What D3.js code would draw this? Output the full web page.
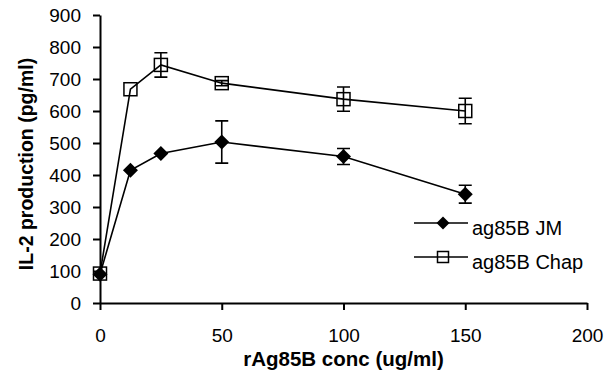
<!DOCTYPE html>
<html>
<head>
<meta charset="utf-8">
<script src="https://cdn.jsdelivr.net/npm/d3@7"></script>
<style>
  body { margin: 0; background: #fff; }
  text { font-family: "Liberation Sans", Arial, sans-serif; fill: #000; }
</style>
</head>
<body>
<div id="chart"></div>
<script>
// concentrations (ug/ml)
const conc = [0, 12.5, 25, 50, 100, 150];

// IL-2 production (pg/ml) and error (SD)
const jmValues = [90, 415, 467, 503, 458, 340];
const jmErrors = [0, 0, 0, 66, 25, 28];
const chapValues = [92, 668, 744, 687, 637, 600];
const chapErrors = [0, 0, 38, 8, 38, 40];

const xTicks = [0, 50, 100, 150, 200];
const yTicks = [0, 100, 200, 300, 400, 500, 600, 700, 800, 900];
const seriesNames = ["ag85B JM", "ag85B Chap"];

function renderChart() {
    const width = 607, height = 381;
    const margin = { left: 100, right: 20, top: 15, bottom: 78 };

    const svg = d3.select("#chart")
        .append("svg")
        .attr("width", width)
        .attr("height", height);

    const x = d3.scaleLinear().domain([0, 200]).range([margin.left, width - margin.right]);
    const y = d3.scaleLinear().domain([0, 900]).range([height - margin.bottom, margin.top]);

    // axes
    const xAxis = svg.append("g")
        .attr("transform", `translate(0,${y(0)})`)
        .call(d3.axisBottom(x).tickValues(xTicks).tickSize(7).tickPadding(18.5).tickSizeOuter(0));
    const yAxis = svg.append("g")
        .attr("transform", `translate(${x(0)},0)`)
        .call(d3.axisLeft(y).tickValues(yTicks).tickSize(7).tickPadding(12).tickSizeOuter(0));

    [xAxis, yAxis].forEach(a => {
        a.select(".domain").attr("stroke", "#000").attr("stroke-width", 2);
        a.selectAll(".tick line").attr("stroke", "#000").attr("stroke-width", 2);
        a.selectAll(".tick text").style("font-size", "19px").attr("fill", "#000");
    });

    // axis titles
    svg.append("text")
        .attr("x", (x(0) + x(200)) / 2)
        .attr("y", 365.5)
        .attr("text-anchor", "middle")
        .style("font-size", "20.5px")
        .style("font-weight", "bold")
        .text("rAg85B conc (ug/ml)");

    svg.append("text")
        .attr("transform", "translate(33,164) rotate(-90)")
        .attr("text-anchor", "middle")
        .style("font-size", "19.5px")
        .style("font-weight", "bold")
        .text("IL-2 production (pg/ml)");

    const series = [
        { name: seriesNames[0], values: jmValues, errors: jmErrors, marker: "diamond" },
        { name: seriesNames[1], values: chapValues, errors: chapErrors, marker: "square" }
    ];

    const line = d3.line().x(d => x(d[0])).y(d => y(d[1]));

    function drawMarker(g, type, cx, cy, r) {
        if (type === "diamond") {
            g.append("path")
                .attr("d", `M${cx},${cy - r}L${cx + r},${cy}L${cx},${cy + r}L${cx - r},${cy}Z`)
                .attr("fill", "#000");
        } else {
            const h = r - 1;
            g.append("rect")
                .attr("x", cx - h).attr("y", cy - h)
                .attr("width", 2 * h).attr("height", 2 * h)
                .attr("fill", "none")
                .attr("stroke", "#000")
                .attr("stroke-width", 1.5);
        }
    }

    series.forEach(s => {
        const pts = conc.map((c, i) => [c, s.values[i]]);
        const g = svg.append("g");
        g.append("path")
            .datum(pts)
            .attr("d", line)
            .attr("fill", "none")
            .attr("stroke", "#000")
            .attr("stroke-width", 1.6);

        // error bars
        pts.forEach((p, i) => {
            const e = s.errors[i];
            if (!e) return;
            const cx = x(p[0]);
            g.append("path")
                .attr("d", `M${cx},${y(p[1] + e)}V${y(p[1] - e)}M${cx - 6.5},${y(p[1] + e)}H${cx + 6.5}M${cx - 6.5},${y(p[1] - e)}H${cx + 6.5}`)
                .attr("fill", "none")
                .attr("stroke", "#000")
                .attr("stroke-width", 1.6);
        });

        pts.forEach(p => drawMarker(g, s.marker, x(p[0]), y(p[1]), 7.5));
    });

    // legend
    const legend = svg.append("g");
    series.forEach((s, i) => {
        const ly = 223 + i * 34;
        legend.append("line")
            .attr("x1", 414).attr("x2", 468)
            .attr("y1", ly).attr("y2", ly)
            .attr("stroke", "#000").attr("stroke-width", 1.6);
        drawMarker(legend, s.marker, 443, ly, 6.5);
        legend.append("text")
            .attr("x", 472).attr("y", ly + 11.5)
            .style("font-size", "20px")
            .text(s.name);
    });
}

document.addEventListener("DOMContentLoaded", renderChart);
</script>
</body>
</html>
